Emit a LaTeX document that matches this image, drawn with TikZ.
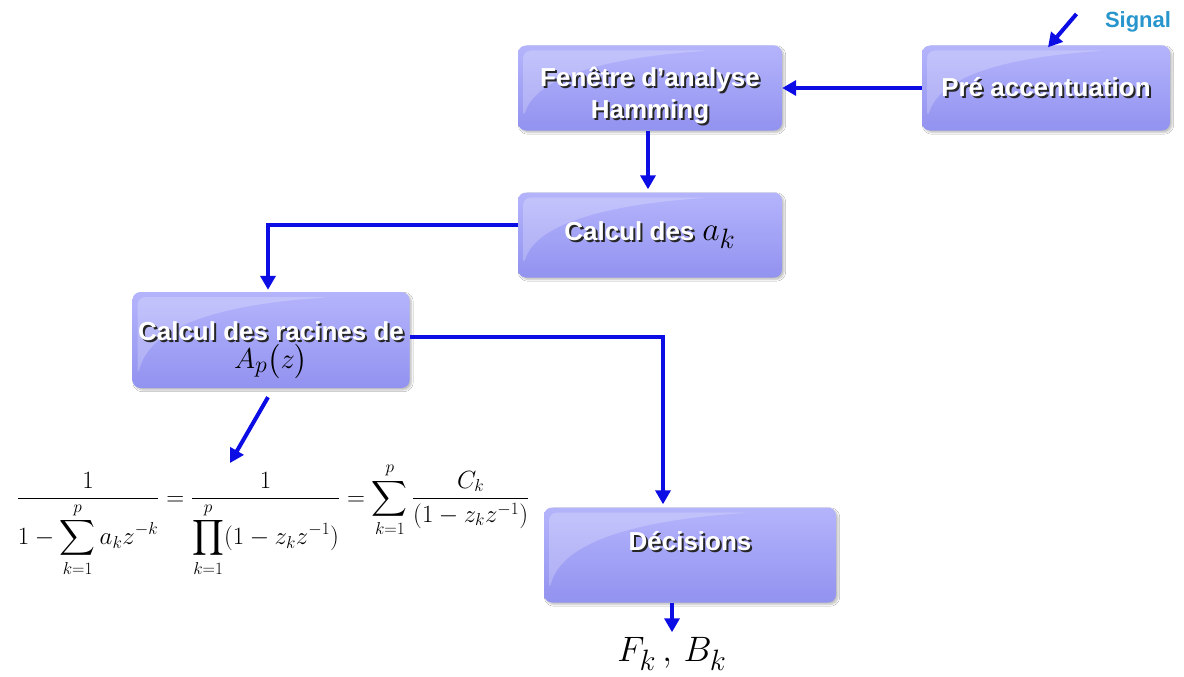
\documentclass[tikz,border=0pt]{standalone}
\usepackage{amsmath}
\usepackage{graphicx}
\usepackage{fontspec}
\setsansfont{Liberation Sans}
\definecolor{blochaut}{RGB}{180,180,252}
\definecolor{blocbas}{RGB}{146,146,240}
\definecolor{flechebleu}{RGB}{12,12,228}
\definecolor{signalcyan}{RGB}{40,150,205}
\usetikzlibrary{positioning,shadows.blur,arrows.meta,calc}

% texte blanc avec ombre portee sombre
\newcommand{\ombre}[1]{\leavevmode\rlap{\hspace{2pt}\raisebox{-2pt}{\textcolor{black!85}{#1}}}\textcolor{white}{#1}}
% formule agrandie (les fontes mathematiques s'arretent a 24.88pt)
\newcommand{\grandmath}[2]{{\fontsize{24.88}{28}\selectfont\scalebox{#1}{$#2$}}}

\tikzset{
  bloc/.style={
    rounded corners=8pt,
    top color=blochaut,
    bottom color=blocbas,
    minimum width=264pt,
    minimum height=85pt,
    inner sep=0pt,
    align=center,
    font=\sffamily\bfseries\fontsize{26}{32}\selectfont,
    blur shadow={shadow blur steps=5, shadow xshift=2pt,
                 shadow yshift=-2pt, shadow opacity=25},
    path picture={
      \fill[white,opacity=0.22]
        ([xshift=5pt,yshift=-5pt]path picture bounding box.north west)
        -- ([xshift=5pt,yshift=12pt]path picture bounding box.south west)
        .. controls ([xshift=20pt,yshift=-30pt]path picture bounding box.north west)
        and ([xshift=-40pt,yshift=-12pt]path picture bounding box.north)
        .. ([xshift=60pt,yshift=-5pt]path picture bounding box.north)
        -- cycle;
    }
  },
  fleche/.style={draw=flechebleu, line width=4pt,
    -{Triangle[length=14pt,width=15pt]}}
}

\begin{document}
\begin{tikzpicture}[x=1pt,y=-1pt]
  \useasboundingbox[fill=white] (0,0) rectangle (1184,677);

  % Blocs de traitement
  \node[bloc, minimum width=248pt] (pre) at (1046,88) {\ombre{Pré accentuation}};
  \node[bloc] (fenetre) at (650,88)
    {\rule{0pt}{37pt}\ombre{Fenêtre d'analyse}\\\ombre{Hamming}};
  \node[bloc] (calcul) at (650,235)
    {\ombre{Calcul des}\hspace{8pt}\grandmath{1.35}{a_k}};
  \node[bloc, minimum width=277pt, minimum height=96pt] (racines) at (271,340)
    {\rule{0pt}{39pt}\ombre{Calcul des racines de}\\[-4pt]\grandmath{1.15}{A_p\big(z\big)}};
  \node[bloc, minimum width=292pt, minimum height=95pt] (decisions) at (690,555)
    {\ombre{Décisions}\\[-4pt]\mbox{}};

  % Entree et sortie
  \node[font=\sffamily\bfseries\fontsize{22}{24}\selectfont, text=signalcyan]
    (signal) at (1138,22) {Signal};
  \node (sortie) at (672,654) {\grandmath{1.42}{F_k\,,\,B_k}};

  % Decomposition en elements simples
  \node[font=\fontsize{24}{28}\selectfont, anchor=base] (formule) at (273,505)
    {$\dfrac{1}{\displaystyle 1-\sum_{k=1}^{p} a_k z^{-k}}
      = \dfrac{1}{\displaystyle \prod_{k=1}^{p}(1-z_k z^{-1})}
      = \displaystyle\sum_{k=1}^{p}\dfrac{C_k}{(1-z_k z^{-1})}$};
  \coordinate (formule haut) at (230,463);

  % Connexions
  \draw[fleche] ([xshift=-25pt,yshift=8pt]signal.west) -- ([xshift=2pt,yshift=-2pt]pre.north);
  \draw[fleche] (pre.west) -- (fenetre.east);
  \draw[fleche, shorten >=3pt] ([xshift=-2pt]fenetre.south) -- ([xshift=-2pt]calcul.north);
  \draw[fleche, shorten >=2pt] ([yshift=10pt]calcul.west) -| ([xshift=-3pt]racines.north);
  \draw[fleche, shorten >=3pt] ([yshift=3pt]racines.east) -| ([xshift=-27pt]decisions.north);
  \draw[fleche] ([xshift=-3pt,yshift=-9pt]racines.south) -- (formule haut);
  \draw[fleche, shorten >=2pt] ([xshift=-18pt]decisions.south) -- (sortie.north);
\end{tikzpicture}
\end{document}
